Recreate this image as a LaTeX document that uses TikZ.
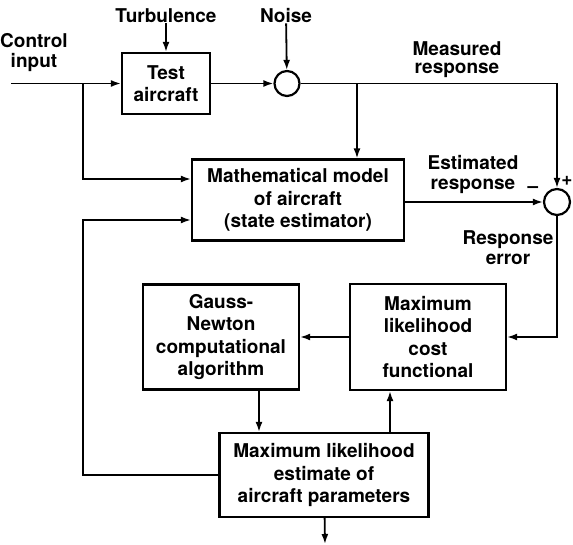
\documentclass[tikz,border=0pt]{standalone}
\usepackage{fontspec}
\setmainfont{TeX Gyre Heros}
\usetikzlibrary{arrows.meta,positioning,calc}

\begin{document}
\begin{tikzpicture}[x=1pt, y=-1pt, font=\fontsize{19}{22.5}\selectfont\bfseries, >={Latex[length=10pt,width=7pt]}]
\tikzstyle{box}=[draw, line width=2.2pt, align=center, inner sep=2pt]
\tikzstyle{junc}=[circle, draw, line width=2.2pt, inner sep=0pt]
\tikzstyle{lbl}=[align=center, inner sep=0pt, font=\fontsize{19}{20}\selectfont\bfseries]
\tikzstyle{wire}=[line width=1.8pt]
\useasboundingbox (0,0) rectangle (573,545);
% blocks
\node[box, minimum width=88pt, minimum height=61pt] (test) at (166,83.5) {Test\\aircraft};
\node[junc, minimum size=25pt] (noise) at (287,83.5) {};
\node[box, minimum width=212pt, minimum height=81pt] (math) at (298,200) {Mathematical model\\of aircraft\\(state estimator)};
\node[junc, minimum size=26pt] (sum) at (557,202) {};
\node[box, minimum width=156pt, minimum height=105pt] (gauss) at (221,337) {Gauss-\\Newton\\computational\\algorithm};
\node[box, minimum width=156pt, minimum height=106pt] (cost) at (428,337) {Maximum\\likelihood\\cost\\functional};
\node[box, minimum width=209pt, minimum height=84pt] (est) at (324,475) {Maximum likelihood\\estimate of\\aircraft parameters};
% labels
\node[lbl] (ctrl) at (34,53) {Control\\input};
\node[lbl] (turb) at (166,16) {Turbulence};
\node[lbl] (noisel) at (286,16) {Noise};
\node[lbl, font=\fontsize{19}{18}\selectfont\bfseries] (meas) at (457,60) {Measured\\response};
\node[lbl] (estl) at (473,174) {Estimated\\response};
\node[lbl] (errl) at (508,248) {Response\\error};
\node[lbl] (minus) at (533,190) {--};
\node[lbl] (plus) at (567,181) {+};
% free ends and bends
\coordinate (ctrlin) at (11,83.5);
\coordinate (br1) at (83,83.5);
\coordinate (br2) at (357,83.5);
\coordinate (fbk) at (83,300);
\coordinate (out) at (325,544);
\coordinate (g2e) at ($(gauss.south)+(38,0)$);
\coordinate (e2c) at ($(cost.south)+(-38,0)$);
% connectors
\draw[->, wire] (turb) -- (test);
\draw[->, wire] (ctrlin) -- (test);
\draw[->, wire] (test) -- (noise);
\draw[->, wire] (noisel) -- (noise);
\draw[->, wire] (noise) -| (sum);
\draw[->, wire] (br2) -- (br2 |- math.north);
\draw[->, wire] (br1) |- ($(math.west)+(0,-21)$);
\draw[->, wire] (math.east |- sum) -- (sum);
\draw[->, wire] (sum) |- (cost);
\draw[->, wire] (cost) -- (gauss);
\draw[->, wire] (g2e) -- (g2e |- est.north);
\draw[->, wire] (e2c |- est.north) -- (e2c);
\draw[->, wire] (est) -- (out);
\draw[->, wire] (est) -| (fbk) |- ($(math.west)+(0,20)$);
\end{tikzpicture}
\end{document}
